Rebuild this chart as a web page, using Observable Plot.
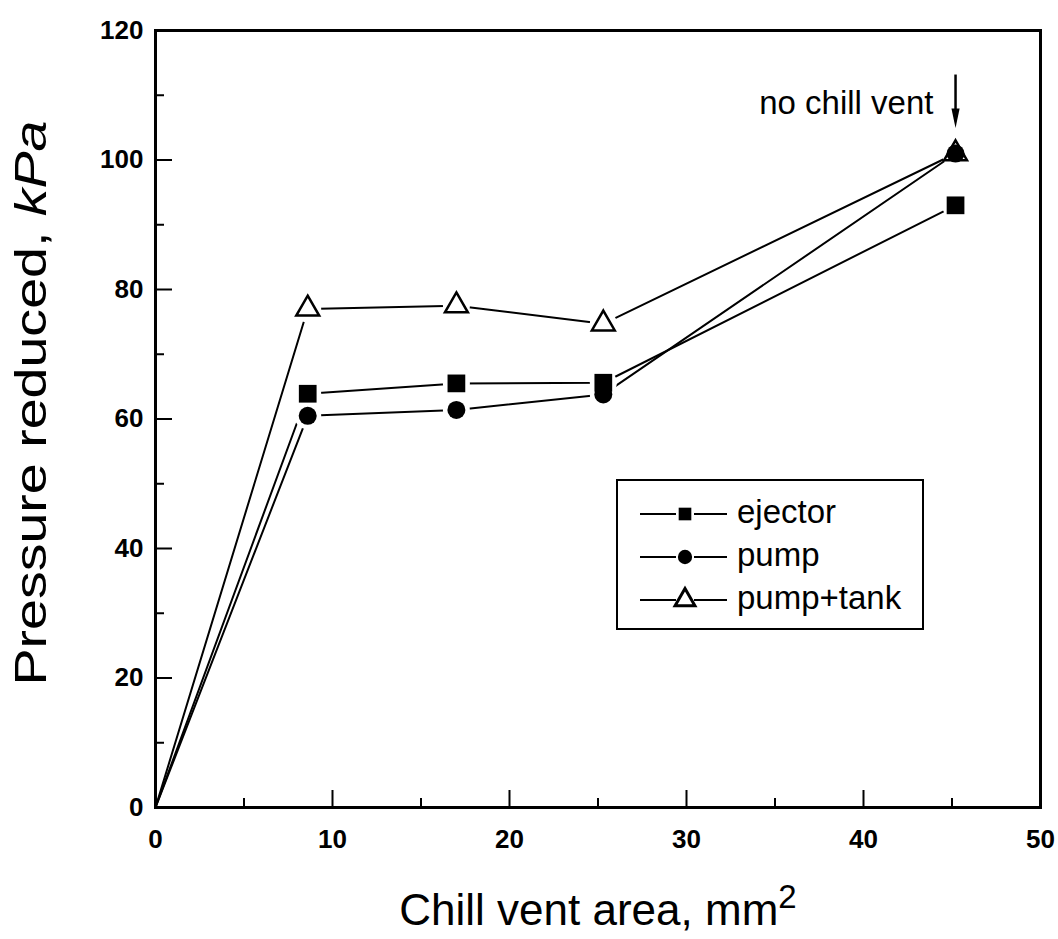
<!DOCTYPE html>
<html><head><meta charset="utf-8">
<script src="https://cdn.jsdelivr.net/npm/d3@7"></script>
<script src="https://cdn.jsdelivr.net/npm/@observablehq/plot@0.6"></script>
<style>body{margin:0;background:#fff} svg{display:block}</style>
</head><body><div id="chart"></div>
<script>
// ---- data ----
const areas = [0, 8.6, 17, 25.3, 45.2];
const ejector = [0, 63.9, 65.5, 65.6, 93.0];
const pump = [0, 60.5, 61.4, 63.8, 101.0];
const pumpTank = [0, 77.0, 77.5, 74.7, 101.0];
const seriesNames = ["ejector", "pump", "pump+tank"];
const xTicks = [0, 10, 20, 30, 40, 50];
const xMinor = [5, 15, 25, 35, 45];
const yTicks = [0, 20, 40, 60, 80, 100, 120];
const yMinor = [10, 30, 50, 70, 90, 110];
const noteText = "no chill vent";
const noteArea = 45.2;

// ---- layout ----
const W = 1058, H = 939;
const mL = 155, mR = 18, mT = 30, mB = 132;
const frameW = W - mL - mR, frameH = H - mT - mB;
const FONT = "'Liberation Sans', Arial, Helvetica, sans-serif";

const seriesValues = [ejector, pump, pumpTank];
const rows = [];
seriesNames.forEach((name, i) => areas.forEach((a, j) => rows.push({series: name, x: a, y: seriesValues[i][j]})));
const markerRows = rows.filter(d => d.x > 0);
const bySeries = n => markerRows.filter(d => d.series === n);

// narrow arrow head pointing down
const arrowHead = {
  draw(ctx, size) {
    const s = Math.sqrt(size);
    ctx.moveTo(0, s * 1.1);
    ctx.lineTo(-s * 0.42, -s * 0.9);
    ctx.lineTo(s * 0.42, -s * 0.9);
    ctx.closePath();
  }
};

const chart = Plot.plot({
  width: W, height: H,
  marginLeft: mL, marginRight: mR, marginTop: mT, marginBottom: mB,
  x: {domain: [0, 50]},
  y: {domain: [0, 120]},
  style: {fontFamily: FONT, background: "white", color: "black"},
  marks: [
    Plot.line(rows, {x: "x", y: "y", z: "series", stroke: "black", strokeWidth: 2}),
    Plot.dot(markerRows, {x: "x", y: "y", r: 13.5, fill: "white"}),
    Plot.dot(bySeries("ejector"), {x: "x", y: "y", symbol: "square", r: 10, fill: "black"}),
    Plot.dot(bySeries("pump"), {x: "x", y: "y", symbol: "circle", r: 9, fill: "black"}),
    Plot.dot(bySeries("pump+tank"), {x: "x", y: "y", symbol: "triangle", r: 8.5, fill: "none", stroke: "black", strokeWidth: 2.5}),
    Plot.tickX(xTicks, {x: d => d, insetTop: frameH - 17, stroke: "black", strokeWidth: 2}),
    Plot.tickX(xMinor, {x: d => d, insetTop: frameH - 9, stroke: "black", strokeWidth: 2}),
    Plot.tickY(yTicks, {y: d => d, insetRight: frameW - 17, stroke: "black", strokeWidth: 2}),
    Plot.tickY(yMinor, {y: d => d, insetRight: frameW - 9, stroke: "black", strokeWidth: 2}),
    Plot.axisX({ticks: xTicks, tickSize: 0, tickPadding: 22, label: null, fontSize: 26, fontWeight: "bold"}),
    Plot.axisY({ticks: yTicks, tickSize: 0, tickPadding: 12, label: null, fontSize: 26, fontWeight: "bold"}),
    Plot.frame({stroke: "black", strokeWidth: 3}),
    Plot.text([noteText], {x: 43.95, y: 108.7, text: d => d, textAnchor: "end", fontSize: 33, fill: "black"}),
    Plot.link([noteArea], {x1: d => d, x2: d => d, y1: 113.2, y2: 107.5, stroke: "black", strokeWidth: 2.5}),
    Plot.dot([noteArea], {x: d => d, y: 106.6, symbol: arrowHead, r: 5.5, fill: "black"})
  ]
});

const svg = d3.select(chart);
svg.append("text")
  .attr("transform", `translate(34, 403) rotate(-90)`)
  .attr("text-anchor", "middle").attr("dominant-baseline", "middle")
  .attr("font-family", FONT).attr("font-size", 44).attr("fill", "black")
  .attr("textLength", 565).attr("lengthAdjust", "spacingAndGlyphs")
  .call(t => { t.append("tspan").text("Pressure reduced, "); t.append("tspan").attr("font-style", "italic").text("kPa"); });
svg.append("text")
  .attr("x", 598).attr("y", 925)
  .attr("text-anchor", "middle")
  .attr("font-family", FONT).attr("font-size", 44).attr("fill", "black")
  .call(t => { t.append("tspan").text("Chill vent area, mm"); t.append("tspan").attr("font-size", 33).attr("dy", -17).text("2"); });

// legend
const lg = svg.append("g").attr("font-family", FONT);
lg.append("rect").attr("x", 617).attr("y", 480).attr("width", 306).attr("height", 149)
  .attr("fill", "white").attr("stroke", "black").attr("stroke-width", 2);
const rowY = [514, 557, 600];
const sym = [d3.symbolSquare, d3.symbolCircle, d3.symbolTriangle];
seriesNames.forEach((name, i) => {
  const y = rowY[i];
  lg.append("line").attr("x1", 640).attr("x2", 676).attr("y1", y).attr("y2", y).attr("stroke", "black").attr("stroke-width", 2);
  lg.append("line").attr("x1", 694).attr("x2", 727).attr("y1", y).attr("y2", y).attr("stroke", "black").attr("stroke-width", 2);
  const p = lg.append("path").attr("transform", `translate(685,${y})`)
    .attr("d", d3.symbol(sym[i], i === 2 ? 170 : 160)());
  if (i === 2) p.attr("fill", "none").attr("stroke", "black").attr("stroke-width", 3);
  else p.attr("fill", "black");
  lg.append("text").attr("x", 737).attr("y", y).attr("text-anchor", "start").attr("dominant-baseline", "middle")
    .attr("font-size", 33).attr("fill", "black").text(name);
});

document.getElementById("chart").appendChild(chart);
</script>
</body></html>
